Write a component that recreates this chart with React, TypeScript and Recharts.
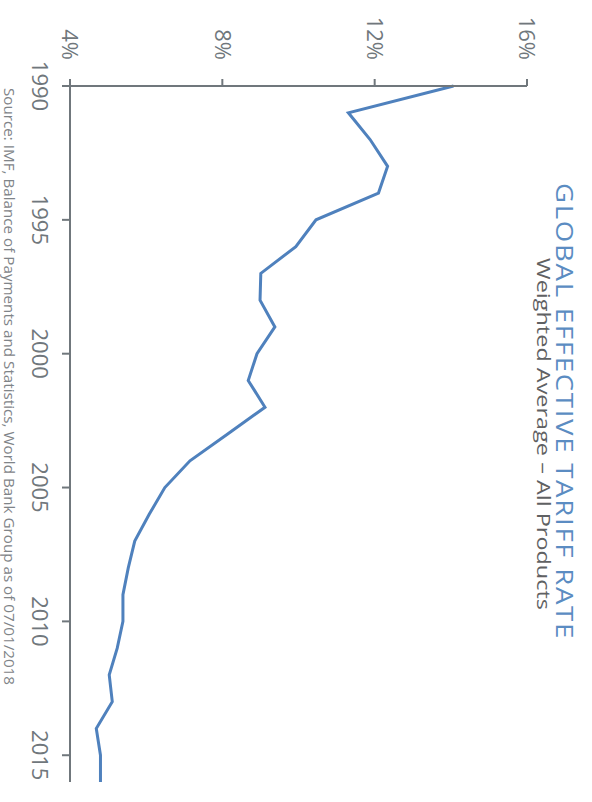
import React from 'react'
import { LineChart, Line, XAxis, YAxis } from 'recharts'

// Years on the category axis
const YEARS = [
  1990, 1991, 1992, 1993, 1994, 1995, 1996, 1997, 1998, 1999, 2000, 2001, 2002,
  2003, 2004, 2005, 2006, 2007, 2008, 2009, 2010, 2011, 2012, 2013, 2014, 2015,
  2016,
]

// Weighted average effective tariff rate, %
const TARIFF_RATE = [
  14.07, 11.31, 11.88, 12.34, 12.1, 10.46, 9.93, 9.01, 8.99, 9.38, 8.91, 8.68,
  9.12, 8.14, 7.15, 6.49, 6.08, 5.7, 5.53, 5.39, 5.39, 5.24, 5.03, 5.11, 4.69,
  4.8, 4.8,
]

const YEAR_TICKS = [1990, 1995, 2000, 2005, 2010, 2015]
const PCT_TICKS = [4, 8, 12, 16]

const TITLE = 'GLOBAL EFFECTIVE TARIFF RATE'
const SUBTITLE = 'Weighted Average – All Products'
const SOURCE =
  'Source: IMF, Balance of Payments and Statistics, World Bank Group as of 07/01/2018'

const AXIS_GRAY = '#70777c'
const LINE_BLUE = '#4f81bd'
const FONT = '"Open Sans", sans-serif'

const chartData = YEARS.map((year, i) => ({ year, rate: TARIFF_RATE[i] }))

export default function App() {
  return (
    <div
      style={{
        position: 'fixed',
        left: 0,
        top: 0,
        width: 592,
        height: 802,
        overflow: 'hidden',
        background: '#fff',
      }}
    >
      {/* the whole chart is laid out landscape and turned a quarter clockwise */}
      <div
        style={{
          position: 'absolute',
          left: 0,
          top: 0,
          width: 802,
          height: 592,
          transformOrigin: '0 0',
          transform: 'translateX(592px) rotate(90deg)',
        }}
      >
        <LineChart
          width={802}
          height={592}
          data={chartData}
          margin={{ top: 65, right: 20, bottom: 20, left: 0 }}
        >
          <XAxis
            dataKey="year"
            type="number"
            domain={[1990, 2016]}
            ticks={YEAR_TICKS}
            interval={0}
            height={50}
            tickSize={8}
            tickMargin={14}
            axisLine={{ stroke: AXIS_GRAY, strokeWidth: 2 }}
            tickLine={{ stroke: AXIS_GRAY, strokeWidth: 2 }}
            tick={{ fill: AXIS_GRAY, fontSize: 22, fontFamily: FONT }}
          />
          <YAxis
            type="number"
            domain={[4, 16]}
            ticks={PCT_TICKS}
            interval={0}
            width={86}
            tickSize={7}
            tickMargin={19}
            tickFormatter={(v: number) => `${v}%`}
            axisLine={{ stroke: AXIS_GRAY, strokeWidth: 2 }}
            tickLine={{ stroke: AXIS_GRAY, strokeWidth: 2 }}
            tick={{ fill: AXIS_GRAY, fontSize: 22, fontFamily: FONT }}
          />
          <Line
            type="linear"
            dataKey="rate"
            stroke={LINE_BLUE}
            strokeWidth={3}
            dot={false}
            isAnimationActive={false}
          />
        </LineChart>

        {/* titles and source note */}
        <svg
          width={802}
          height={592}
          style={{ position: 'absolute', left: 0, top: 0, pointerEvents: 'none' }}
        >
          <text
            x={183}
            y={36}
            fontSize={24}
            fontFamily={FONT}
            fill="#5b8cc2"
            letterSpacing={1.5}
            textLength={457}
            lengthAdjust="spacingAndGlyphs"
          >
            {TITLE}
          </text>
          <text
            x={258}
            y={55}
            fontSize={18}
            fontFamily={FONT}
            fill="#5f6163"
            textLength={352}
            lengthAdjust="spacingAndGlyphs"
          >
            {SUBTITLE}
          </text>
          <text
            x={88}
            y={588}
            fontSize={15}
            fontFamily={FONT}
            fill="#7f8488"
            textLength={597}
            lengthAdjust="spacingAndGlyphs"
          >
            {SOURCE}
          </text>
        </svg>
      </div>
    </div>
  )
}
